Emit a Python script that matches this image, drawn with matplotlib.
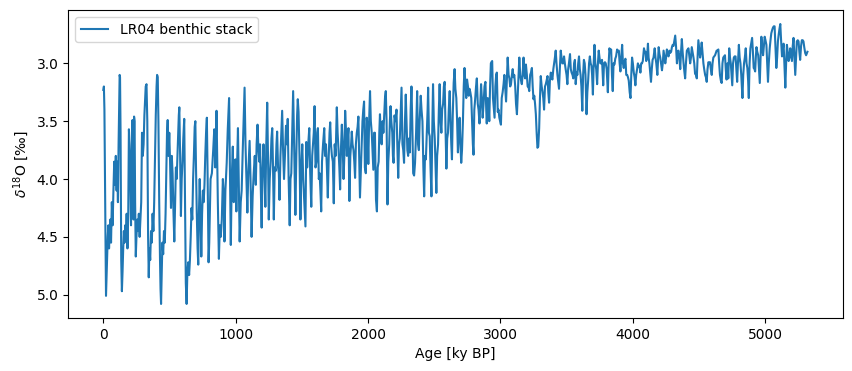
import numpy as np
import matplotlib
matplotlib.use('Agg')
import matplotlib.pyplot as plt

# LR04 benthic d18O stack
age_0_800 = [0, 4, 8, 12, 16, 20, 24, 28, 33, 38, 43, 48, 53, 58, 64, 70, 76, 82, 88, 94,
             100, 105, 110, 115, 119, 123, 126, 130, 135, 140, 145, 150, 155, 160, 165, 170, 176, 182, 188, 193,
             198, 204, 209, 214, 220, 225, 228, 232, 236, 240, 245, 250, 256, 262, 268, 274, 280, 286, 292, 298,
             304, 310, 316, 320, 326, 332, 338, 343, 348, 354, 360, 366, 372, 378, 384, 390, 396, 402, 406, 411,
             416, 422, 428, 432, 436, 441, 446, 452, 458, 464, 470, 476, 481, 486, 492, 498, 504, 511, 517, 523,
             530, 536, 542, 548, 554, 560, 566, 570, 574, 580, 586, 592, 598, 604, 611, 617, 623, 629, 635, 641,
             648, 654, 660, 666, 672, 678, 684, 690, 695, 700, 706, 712, 717, 722, 728, 734, 740, 746, 752, 758,
             764, 770, 776, 782, 788, 795]
d18o_0_800 = [3.23, 3.2, 3.4, 3.9, 4.5, 5.01, 4.85, 4.7, 4.5, 4.4, 4.6, 4.45, 4.35, 4.55, 4.2, 4.4, 4.1, 3.85, 4.05, 3.8,
              4.1, 3.85, 4.2, 3.7, 3.4, 3.1, 3.12, 3.6, 4.7, 4.97, 4.8, 4.6, 4.45, 4.55, 4.4, 4.5, 4.3, 4.6, 4.3, 3.57,
              3.7, 4.0, 4.4, 3.8, 3.49, 4.3, 4.35, 3.46, 3.5, 4.2, 4.67, 4.5, 4.35, 4.45, 4.3, 4.5, 4.35, 4.2, 3.6, 3.8,
              3.7, 3.45, 3.3, 3.2, 3.18, 3.5, 4.5, 4.85, 4.6, 4.7, 4.45, 4.55, 4.3, 4.45, 4.2, 3.8, 3.45, 3.2, 3.1, 3.12,
              3.5, 4.2, 4.7, 4.95, 5.08, 4.8, 4.55, 4.65, 4.45, 4.55, 4.3, 3.9, 3.6, 3.49, 3.8, 3.6, 3.85, 4.25, 3.8, 3.95,
              4.3, 4.54, 4.2, 3.9, 4.0, 3.8, 3.6, 3.45, 3.38, 3.8, 4.32, 4.0, 3.85, 3.65, 3.48, 4.2, 4.9, 5.08, 4.8, 4.72,
              4.83, 4.7, 4.5, 4.25, 4.35, 4.0, 3.8, 3.55, 3.5, 3.9, 4.3, 4.6, 4.74, 4.3, 4.0, 4.3, 4.67, 4.3, 4.1, 4.2,
              4.05, 3.8, 3.6, 3.47, 4.0, 4.72]

age_800_1560 = [800, 810, 820, 830, 838, 846, 855, 865, 873, 880, 887, 895, 903, 910, 915, 922, 932, 940, 950, 956,
                963, 970, 978, 985, 992, 998, 1005, 1010, 1017, 1023, 1030, 1038, 1045, 1052, 1060, 1067, 1074, 1081, 1088, 1095,
                1105, 1112, 1120, 1128, 1136, 1144, 1152, 1158, 1165, 1172, 1178, 1184, 1190, 1196, 1203, 1210, 1217, 1224, 1231, 1238,
                1244, 1250, 1257, 1264, 1270, 1276, 1282, 1288, 1295, 1302, 1308, 1313, 1320, 1326, 1331, 1338, 1345, 1351, 1358, 1365,
                1372, 1380, 1387, 1393, 1400, 1408, 1414, 1420, 1427, 1434, 1440, 1446, 1451, 1458, 1464, 1469, 1475, 1482, 1489, 1496,
                1503, 1510, 1518, 1527, 1533, 1540, 1548, 1556]
d18o_800_1560 = [4.55, 4.0, 3.95, 3.75, 3.57, 3.9, 3.41, 4.2, 4.69, 4.4, 4.5, 4.35, 4.0, 4.15, 4.54, 4.1, 3.86, 3.57, 3.3, 3.9,
                 4.57, 4.0, 3.72, 4.2, 3.95, 3.83, 4.28, 3.9, 3.56, 4.0, 4.54, 4.2, 4.1, 3.8, 3.5, 3.21, 3.7, 4.0, 4.29, 3.95,
                 3.67, 4.0, 4.5, 4.15, 3.95, 3.8, 4.05, 3.7, 3.53, 3.75, 3.85, 3.7, 4.1, 4.42, 3.9, 3.7, 3.95, 4.24, 3.7, 3.34,
                 3.8, 4.35, 4.0, 3.85, 3.65, 3.56, 3.9, 4.35, 3.9, 3.93, 3.7, 3.59, 3.9, 3.95, 4.18, 3.8, 3.6, 3.41, 3.75, 4.0,
                 3.8, 3.54, 3.7, 3.48, 4.0, 4.4, 4.0, 3.95, 3.6, 3.24, 3.6, 4.0, 4.31, 3.8, 3.45, 3.31, 3.42, 3.8, 4.35, 3.9,
                 3.7, 4.0, 4.2, 4.41, 3.68, 3.9, 3.7, 3.56]

age_1560_2350 = [1563, 1571, 1578, 1584, 1590, 1596, 1603, 1610, 1616, 1621, 1628, 1634, 1640, 1646, 1652, 1660, 1669, 1675, 1682, 1689,
                 1696, 1703, 1709, 1714, 1720, 1727, 1734, 1741, 1748, 1755, 1764, 1770, 1777, 1783, 1789, 1795, 1802, 1808, 1815, 1821,
                 1827, 1834, 1840, 1846, 1852, 1859, 1866, 1872, 1877, 1883, 1890, 1896, 1902, 1908, 1915, 1921, 1927, 1933, 1939, 1946,
                 1952, 1958, 1964, 1970, 1976, 1983, 1990, 1996, 2002, 2008, 2015, 2021, 2028, 2034, 2040, 2046, 2052, 2060, 2067, 2073,
                 2080, 2085, 2090, 2097, 2103, 2110, 2116, 2122, 2128, 2134, 2140, 2147, 2153, 2160, 2165, 2170, 2176, 2183, 2188, 2193,
                 2200, 2207, 2215, 2221, 2228, 2234, 2240, 2247, 2253, 2260, 2266, 2272, 2279, 2285, 2291, 2297, 2303, 2309, 2316, 2322,
                 2328, 2334, 2341, 2348]
d18o_1560_2350 = [3.95, 4.24, 3.8, 3.7, 3.6, 3.37, 3.9, 3.85, 3.6, 3.56, 4.0, 3.95, 4.1, 4.28, 3.85, 3.7, 3.56, 3.8, 3.7, 3.9,
                  4.16, 3.8, 3.6, 3.51, 3.7, 3.8, 3.85, 4.21, 3.7, 3.8, 3.38, 3.6, 3.75, 3.9, 4.09, 3.75, 3.53, 3.7, 4.0, 3.8,
                  3.41, 3.6, 3.8, 3.65, 3.56, 4.19, 3.8, 3.7, 3.59, 3.7, 3.75, 3.85, 3.99, 3.7, 3.6, 3.55, 3.46, 3.8, 4.16, 3.9,
                  3.7, 3.5, 3.4, 3.33, 3.9, 3.95, 3.47, 3.55, 3.87, 3.5, 3.24, 3.5, 3.6, 3.75, 3.92, 3.6, 3.6, 4.18, 4.28, 3.9,
                  3.85, 3.6, 3.44, 3.65, 3.7, 3.5, 3.6, 3.45, 3.3, 3.24, 3.5, 4.22, 3.85, 3.7, 3.5, 3.37, 3.5, 3.6, 3.8, 3.86,
                  3.45, 3.5, 3.4, 3.7, 3.99, 3.7, 3.65, 3.4, 3.21, 3.7, 3.75, 3.86, 3.5, 3.27, 3.5, 3.75, 3.8, 3.65, 3.77, 3.4,
                  3.2, 3.5, 3.95, 3.97]

age_2350_3130 = [2355, 2363, 2371, 2378, 2384, 2390, 2398, 2404, 2411, 2418, 2424, 2430, 2437, 2444, 2450, 2454, 2460, 2466, 2472, 2479,
                 2485, 2491, 2497, 2504, 2510, 2516, 2522, 2529, 2535, 2541, 2548, 2554, 2560, 2567, 2573, 2579, 2586, 2592, 2598, 2604,
                 2610, 2617, 2623, 2629, 2634, 2640, 2647, 2654, 2660, 2667, 2673, 2679, 2685, 2692, 2698, 2704, 2710, 2717, 2723, 2729,
                 2735, 2742, 2748, 2755, 2761, 2767, 2773, 2780, 2786, 2792, 2797, 2803, 2810, 2816, 2822, 2829, 2835, 2842, 2848, 2854,
                 2860, 2866, 2873, 2880, 2887, 2893, 2897, 2904, 2910, 2916, 2922, 2928, 2932, 2938, 2944, 2950, 2956, 2962, 2968, 2973,
                 2980, 2986, 2992, 2998, 3004, 3010, 3017, 3024, 3030, 3036, 3043, 3050, 3055, 3062, 3068, 3074, 3080, 3087, 3093, 3099,
                 3105, 3112, 3118, 3125]
d18o_2350_3130 = [3.86, 3.6, 3.24, 3.7, 3.75, 3.5, 3.28, 3.4, 3.5, 3.9, 4.15, 3.8, 3.83, 3.6, 3.4, 3.21, 3.6, 3.63, 3.9, 4.15,
                  3.6, 3.18, 3.5, 3.65, 3.9, 4.12, 3.8, 3.7, 3.4, 3.18, 3.5, 3.6, 3.4, 3.35, 3.2, 3.16, 3.6, 3.91, 3.65, 3.6,
                  3.4, 3.24, 3.5, 3.7, 3.83, 3.45, 3.17, 3.05, 3.22, 3.3, 3.5, 3.77, 3.6, 3.47, 3.7, 3.86, 3.75, 3.5, 3.2, 3.04,
                  3.17, 3.3, 3.14, 3.2, 3.28, 3.22, 3.25, 3.3, 3.5, 3.7, 3.79, 3.4, 3.3, 3.2, 3.13, 3.35, 3.4, 3.52, 3.35, 3.18,
                  3.3, 3.47, 3.35, 3.2, 3.16, 3.4, 3.52, 3.3, 3.34, 3.5, 3.2, 3.0, 2.99, 2.98, 3.3, 3.38, 3.47, 3.2, 3.1, 3.08,
                  3.42, 3.4, 3.47, 3.5, 3.53, 3.3, 3.25, 3.18, 3.1, 3.2, 3.33, 3.1, 2.95, 3.1, 3.13, 3.2, 3.18, 3.1, 3.05, 3.12,
                  3.1, 3.2, 3.35, 3.44]

age_3130_3920 = [3130, 3137, 3143, 3150, 3156, 3162, 3168, 3175, 3181, 3187, 3193, 3200, 3206, 3212, 3218, 3225, 3231, 3238, 3244, 3250,
                 3256, 3262, 3268, 3274, 3280, 3286, 3293, 3299, 3305, 3312, 3318, 3324, 3330, 3337, 3343, 3349, 3356, 3362, 3368, 3374,
                 3381, 3387, 3393, 3400, 3406, 3412, 3418, 3424, 3431, 3437, 3443, 3449, 3456, 3462, 3468, 3475, 3481, 3487, 3493, 3500,
                 3506, 3512, 3518, 3526, 3532, 3538, 3545, 3551, 3557, 3563, 3569, 3576, 3582, 3588, 3594, 3600, 3606, 3612, 3619, 3625,
                 3631, 3637, 3643, 3651, 3657, 3663, 3670, 3676, 3682, 3688, 3693, 3699, 3705, 3711, 3717, 3724, 3731, 3737, 3743, 3749,
                 3755, 3762, 3768, 3777, 3783, 3790, 3796, 3803, 3812, 3818, 3824, 3830, 3837, 3843, 3849, 3855, 3862, 3868, 3874, 3882,
                 3888, 3895, 3901, 3907, 3913, 3920]
d18o_3130_3920 = [3.3, 3.1, 2.95, 3.1, 3.15, 3.18, 3.1, 2.95, 3.1, 3.13, 3.01, 3.1, 3.2, 3.2, 3.24, 3.1, 3.08, 3.04, 3.2, 3.31,
                  3.28, 3.35, 3.44, 3.6, 3.73, 3.72, 3.56, 3.3, 3.11, 3.2, 3.24, 3.3, 3.4, 3.2, 3.18, 3.15, 3.11, 3.25, 3.34, 3.15,
                  3.08, 3.12, 3.14, 3.05, 3.0, 2.95, 2.89, 3.0, 3.1, 3.16, 3.22, 3.05, 2.89, 2.95, 3.0, 3.0, 2.94, 3.0, 3.05, 3.1,
                  3.18, 3.05, 3.0, 2.92, 3.05, 3.08, 3.1, 3.13, 3.0, 2.97, 3.18, 3.08, 3.1, 3.0, 2.94, 3.05, 3.1, 3.2, 3.41, 3.1,
                  2.97, 3.0, 3.1, 3.44, 3.25, 3.15, 3.0, 2.94, 3.0, 3.02, 3.1, 3.27, 3.0, 2.84, 3.0, 3.05, 3.18, 3.0, 2.89, 2.95,
                  3.0, 3.0, 2.97, 3.19, 3.0, 2.99, 3.0, 3.05, 3.25, 3.0, 2.87, 2.9, 2.88, 3.1, 3.24, 3.0, 3.01, 2.96, 2.94, 2.88,
                  2.9, 2.89, 3.0, 3.07, 2.95, 2.84]

age_3920_4710 = [3926, 3932, 3939, 3945, 3951, 3958, 3964, 3970, 3977, 3983, 3989, 3995, 4001, 4008, 4014, 4020, 4026, 4033, 4039, 4045,
                 4051, 4058, 4064, 4070, 4076, 4085, 4090, 4096, 4102, 4108, 4115, 4120, 4126, 4132, 4138, 4144, 4150, 4157, 4166, 4172,
                 4178, 4186, 4196, 4202, 4208, 4214, 4221, 4227, 4233, 4240, 4246, 4252, 4258, 4264, 4271, 4277, 4283, 4290, 4296, 4302,
                 4308, 4315, 4321, 4327, 4334, 4340, 4346, 4352, 4359, 4365, 4371, 4377, 4384, 4390, 4396, 4402, 4409, 4415, 4421, 4427,
                 4434, 4440, 4446, 4452, 4459, 4465, 4471, 4478, 4484, 4490, 4496, 4502, 4509, 4515, 4521, 4527, 4534, 4540, 4547, 4553,
                 4559, 4565, 4572, 4578, 4584, 4590, 4597, 4603, 4609, 4615, 4622, 4628, 4634, 4640, 4647, 4653, 4659, 4666, 4672, 4678,
                 4684, 4690, 4697, 4703, 4709]
d18o_3920_4710 = [3.0, 3.04, 2.98, 2.96, 3.1, 3.1, 3.12, 3.15, 3.25, 3.3, 3.1, 2.95, 3.0, 3.08, 3.12, 3.19, 3.1, 3.05, 3.0, 3.03,
                  3.02, 3.08, 3.0, 3.0, 2.98, 2.87, 2.9, 2.9, 2.98, 2.95, 2.83, 2.95, 3.0, 3.08, 3.16, 3.05, 2.97, 2.95, 2.87, 2.95,
                  3.0, 3.1, 2.86, 2.92, 2.95, 3.0, 3.06, 3.0, 2.89, 2.95, 3.0, 2.95, 2.88, 2.92, 2.94, 2.89, 2.91, 2.9, 2.86, 2.84,
                  2.85, 2.8, 2.76, 2.85, 3.0, 2.9, 2.89, 2.95, 3.05, 2.9, 2.79, 2.9, 3.0, 3.07, 3.13, 3.0, 2.89, 2.88, 2.87, 2.93,
                  3.0, 2.95, 2.86, 2.9, 2.95, 3.0, 3.09, 3.1, 3.13, 2.95, 2.8, 2.87, 2.95, 2.9, 2.82, 2.9, 3.0, 3.05, 3.1, 3.12,
                  3.16, 3.05, 2.99, 3.0, 2.99, 3.05, 3.1, 3.0, 2.95, 2.94, 2.93, 2.91, 2.89, 2.89, 2.88, 3.0, 3.1, 3.15, 3.17, 3.0,
                  2.95, 2.94, 2.93, 3.05, 3.14]

age_4710_5320 = [4716, 4722, 4729, 4735, 4741, 4747, 4752, 4758, 4764, 4770, 4777, 4783, 4789, 4795, 4802, 4808, 4814, 4820, 4829, 4835,
                 4841, 4847, 4854, 4860, 4866, 4872, 4877, 4883, 4889, 4895, 4902, 4908, 4914, 4920, 4925, 4930, 4935, 4941, 4948, 4954,
                 4960, 4966, 4972, 4978, 4985, 4991, 4997, 5003, 5010, 5016, 5022, 5028, 5035, 5041, 5047, 5054, 5060, 5066, 5072, 5078,
                 5085, 5091, 5097, 5103, 5109, 5115, 5121, 5128, 5134, 5140, 5146, 5153, 5159, 5165, 5171, 5178, 5184, 5190, 5196, 5203,
                 5209, 5215, 5222, 5228, 5234, 5240, 5247, 5253, 5259, 5265, 5272, 5278, 5284, 5290, 5296, 5303, 5310, 5320]
d18o_4710_5320 = [3.0, 3.13, 2.87, 2.95, 3.0, 3.1, 3.19, 3.0, 2.95, 2.94, 2.94, 3.05, 3.16, 3.0, 2.84, 2.95, 3.0, 3.1, 3.3, 3.1,
                  3.0, 2.95, 2.87, 3.0, 3.04, 3.15, 3.3, 3.0, 2.87, 2.83, 2.78, 2.9, 3.04, 3.05, 3.07, 2.95, 2.86, 2.9, 2.93, 3.05,
                  3.17, 2.95, 2.77, 2.85, 2.93, 2.85, 2.77, 2.8, 2.84, 3.0, 3.16, 3.0, 2.87, 2.8, 2.74, 2.71, 2.69, 2.68, 2.68, 2.85,
                  3.04, 2.95, 2.81, 2.75, 2.7, 2.66, 2.8, 2.94, 2.88, 2.83, 3.0, 3.21, 3.0, 2.84, 2.9, 2.98, 2.95, 2.87, 2.92, 2.98,
                  2.85, 2.78, 2.95, 3.1, 2.95, 2.81, 2.8, 2.81, 2.9, 2.97, 2.85, 2.8, 2.8, 2.81, 2.86, 2.91, 2.93, 2.9]

age = np.concatenate([age_0_800, age_800_1560, age_1560_2350, age_2350_3130,
                      age_3130_3920, age_3920_4710, age_4710_5320])
d18o = np.concatenate([d18o_0_800, d18o_800_1560, d18o_1560_2350, d18o_2350_3130,
                       d18o_3130_3920, d18o_3920_4710, d18o_4710_5320])

fig, ax = plt.subplots(figsize=(8.52, 3.71), dpi=100)
fig.subplots_adjust(left=0.08, right=0.989, top=0.973, bottom=0.143)

ax.plot(age, d18o, label='LR04 benthic stack')
ax.invert_yaxis()
ax.set_xlabel('Age [ky BP]')
ax.set_ylabel(r'$\delta^{18}$O [‰]')
ax.legend(loc='upper left')

plt.savefig('out.png')
